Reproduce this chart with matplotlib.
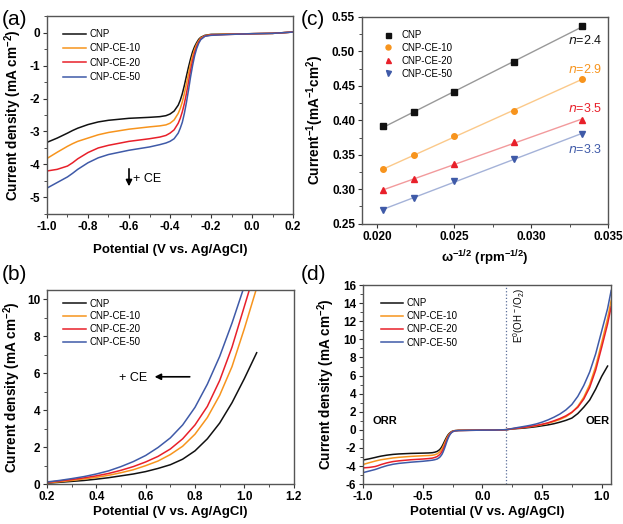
import numpy as np
import matplotlib
matplotlib.use('Agg')
import matplotlib.pyplot as plt
from matplotlib.ticker import MultipleLocator, FormatStrFormatter

plt.rcParams['font.family'] = ['Liberation Sans', 'DejaVu Sans']
plt.rcParams['mathtext.default'] = 'regular'
plt.rcParams['axes.unicode_minus'] = False

names = ['CNP', 'CNP-CE-10', 'CNP-CE-20', 'CNP-CE-50']
colors = ['#111111', '#f7941d', '#e8202a', '#3f5aa8']
fitcolors = ['#999999', '#fbc98a', '#f29a9c', '#a4b2d8']
markers = ['s', 'o', '^', 'v']

# (a) ORR polarisation curves
pot_orr = [-1.0, -0.95, -0.9, -0.875, -0.85, -0.8, -0.75, -0.7, -0.6, -0.5, -0.45, -0.42, -0.4, -0.38,
           -0.36, -0.35, -0.34, -0.33, -0.32, -0.31, -0.30, -0.29, -0.28, -0.27, -0.26, -0.25,
           -0.23, -0.2, -0.1, 0.0, 0.1, 0.2]
orr_cnp = [-3.33, -3.2, -3.05, -2.97, -2.9, -2.79, -2.71, -2.66, -2.6, -2.57, -2.55, -2.52, -2.47, -2.38,
           -2.2, -2.05, -1.85, -1.6, -1.32, -1.05, -0.8, -0.58, -0.42, -0.3, -0.2, -0.14,
           -0.08, -0.05, -0.04, -0.03, -0.02, 0.02]
orr_ce10 = [-3.82, -3.63, -3.45, -3.37, -3.3, -3.2, -3.1, -3.03, -2.93, -2.86, -2.83, -2.8, -2.75, -2.65,
            -2.45, -2.3, -2.1, -1.85, -1.55, -1.25, -0.95, -0.7, -0.5, -0.35, -0.24, -0.16,
            -0.09, -0.06, -0.04, -0.03, -0.02, 0.02]
orr_ce20 = [-4.2, -4.15, -4.05, -3.95, -3.83, -3.64, -3.5, -3.42, -3.3, -3.22, -3.17, -3.12, -3.05, -2.95,
            -2.75, -2.6, -2.4, -2.15, -1.85, -1.5, -1.15, -0.85, -0.6, -0.42, -0.28, -0.19,
            -0.1, -0.07, -0.05, -0.03, -0.02, 0.02]
orr_ce50 = [-4.72, -4.55, -4.38, -4.27, -4.15, -3.95, -3.8, -3.7, -3.57, -3.47, -3.4, -3.35, -3.3, -3.22,
            -3.05, -2.9, -2.72, -2.45, -2.12, -1.75, -1.35, -1.0, -0.7, -0.48, -0.32, -0.21,
            -0.11, -0.08, -0.05, -0.03, -0.02, 0.02]

# (b) OER polarisation curves
pot_oer = [0.2, 0.25, 0.3, 0.35, 0.4, 0.45, 0.5, 0.55, 0.6, 0.65, 0.7, 0.75, 0.8, 0.85,
           0.9, 0.95, 1.0, 1.05]
oer_cnp = [0.05, 0.1, 0.15, 0.2, 0.27, 0.35, 0.45, 0.55, 0.68, 0.85, 1.05, 1.35, 1.8, 2.45,
           3.3, 4.4, 5.7, 7.1]
oer_ce10 = [0.07, 0.13, 0.2, 0.28, 0.37, 0.48, 0.62, 0.78, 1.0, 1.25, 1.6, 2.05, 2.7, 3.6,
            4.8, 6.35, 8.4, 10.6]
oer_ce20 = [0.1, 0.17, 0.25, 0.34, 0.45, 0.58, 0.75, 0.95, 1.2, 1.5, 1.9, 2.45, 3.2, 4.2,
            5.6, 7.4, 9.6, 11.8]
oer_ce50 = [0.12, 0.2, 0.3, 0.41, 0.55, 0.72, 0.95, 1.22, 1.55, 1.98, 2.5, 3.2, 4.15, 5.4,
            6.9, 8.7, 10.7, 12.8]

# (c) Koutecky-Levich plot
omega = [0.0204, 0.0224, 0.025, 0.0289, 0.0333]
kl_cnp = [0.391, 0.412, 0.441, 0.485, 0.536]
kl_ce10 = [0.329, 0.350, 0.377, 0.413, 0.460]
kl_ce20 = [0.299, 0.315, 0.336, 0.368, 0.401]
kl_ce50 = [0.270, 0.288, 0.312, 0.344, 0.380]
n_labels = ['2.4', '2.9', '3.5', '3.3']
n_ypos = [0.515, 0.473, 0.417, 0.357]

# (d) full range, OER branch
pot_d = [0.2, 0.25, 0.3, 0.35, 0.4, 0.45, 0.5, 0.55, 0.6, 0.65, 0.7, 0.75, 0.8, 0.85,
         0.9, 0.95, 1.0, 1.05, 1.08]
d_cnp = [0.02, 0.1, 0.15, 0.2, 0.27, 0.35, 0.45, 0.55, 0.68, 0.85, 1.05, 1.3, 1.8, 2.5,
         3.3, 4.5, 5.9, 7.05, np.nan]
d_ce10 = [0.02, 0.12, 0.2, 0.27, 0.35, 0.45, 0.58, 0.73, 0.92, 1.15, 1.45, 1.9, 2.6, 3.6,
          5.0, 7.0, 9.6, 12.3, 14.3]
d_ce20 = [0.02, 0.12, 0.2, 0.28, 0.38, 0.48, 0.62, 0.78, 1.0, 1.25, 1.55, 1.95, 2.5, 3.4,
          4.7, 6.6, 9.1, 11.7, 13.6]
d_ce50 = [0.02, 0.15, 0.27, 0.38, 0.5, 0.65, 0.85, 1.1, 1.4, 1.75, 2.2, 2.8, 3.7, 4.9,
          6.4, 8.4, 10.9, 13.4, 15.4]

orr = [orr_cnp, orr_ce10, orr_ce20, orr_ce50]
oer = [oer_cnp, oer_ce10, oer_ce20, oer_ce50]
kl = [kl_cnp, kl_ce10, kl_ce20, kl_ce50]
dd = [d_cnp, d_ce10, d_ce20, d_ce50]

fig = plt.figure(figsize=(6.23, 5.24), dpi=100)
axa = fig.add_axes([0.0754, 0.592, 0.395, 0.377])
axc = fig.add_axes([0.581, 0.573, 0.395, 0.395])
axb = fig.add_axes([0.0754, 0.076, 0.396, 0.371])
axd = fig.add_axes([0.583, 0.076, 0.398, 0.380])


def style(ax, xmaj, ymaj, xfmt=None, yfmt=None):
    for s in ax.spines.values():
        s.set_color('#555555')
        s.set_linewidth(1.0)
    ax.xaxis.set_major_locator(MultipleLocator(xmaj))
    ax.xaxis.set_minor_locator(MultipleLocator(xmaj / 2))
    ax.yaxis.set_major_locator(MultipleLocator(ymaj))
    ax.yaxis.set_minor_locator(MultipleLocator(ymaj / 2))
    if xfmt:
        ax.xaxis.set_major_formatter(FormatStrFormatter(xfmt))
    if yfmt:
        ax.yaxis.set_major_formatter(FormatStrFormatter(yfmt))
    ax.tick_params(which='both', direction='out', top=False, right=False, colors='#333333',
                   labelcolor='black')
    ax.tick_params(which='major', length=3, labelsize=8.5, pad=2)
    ax.tick_params(which='minor', length=2)
    for lab in ax.get_xticklabels() + ax.get_yticklabels():
        lab.set_fontweight('bold')


xlab_kw = dict(fontsize=9.5, fontweight='bold')
ylab_kw = dict(fontsize=9.8, fontweight='bold')
leg_kw = dict(loc='upper left', frameon=False, fontsize=7, handlelength=2.3,
              handletextpad=0.4, borderaxespad=0)

# (a)
for y, c, n in zip(orr, colors, names):
    axa.plot(pot_orr, y, color=c, lw=1.1, label=n)
axa.set_xlim(-1.0, 0.2)
axa.set_ylim(-5.5, 0.5)
style(axa, 0.2, 1, xfmt='%.1f', yfmt='%d')
axa.set_xlabel('Potential (V vs. Ag/AgCl)', labelpad=8, **xlab_kw)
axa.set_ylabel('Current density (mA cm$^{-2}$)', labelpad=4, **ylab_kw)
axa.legend(bbox_to_anchor=(0.05, 0.955), labelspacing=0.45, **leg_kw)
axa.annotate('', xy=(-0.6, -4.75), xytext=(-0.6, -4.05),
             arrowprops=dict(arrowstyle='-|>', color='black', lw=1.2, mutation_scale=9))
axa.text(-0.58, -4.45, '+ CE', fontsize=9, va='center')

# (b)
for y, c, n in zip(oer, colors, names):
    axb.plot(pot_oer, y, color=c, lw=1.1, label=n)
axb.set_xlim(0.2, 1.2)
axb.set_ylim(0, 10.5)
style(axb, 0.2, 2, xfmt='%.1f', yfmt='%d')
axb.set_xlabel('Potential (V vs. Ag/AgCl)', labelpad=2, **xlab_kw)
axb.set_ylabel('Current density (mA cm$^{-2}$)', labelpad=3, **ylab_kw)
axb.legend(bbox_to_anchor=(0.05, 0.975), labelspacing=0.3, **leg_kw)
axb.annotate('', xy=(0.625, 5.8), xytext=(0.79, 5.8),
             arrowprops=dict(arrowstyle='-|>', color='black', lw=1.2, mutation_scale=9))
axb.text(0.55, 5.75, '+ CE', fontsize=9, va='center', ha='center')

# (c)
for y, c, fc, m, n, nl, ny in zip(kl, colors, fitcolors, markers, names, n_labels, n_ypos):
    k, b = np.polyfit(omega, y, 1)
    xs = np.array([omega[0], omega[-1]])
    axc.plot(xs, k * xs + b, color=fc, lw=1.0)
    axc.plot(omega, y, ls='none', marker=m, color=c, ms=4, label=n)
    axc.text(0.0346, ny, '$\\it{n}$=' + nl, color=c, fontsize=9, ha='right', va='center')
axc.set_xlim(0.019, 0.035)
axc.set_ylim(0.25, 0.55)
style(axc, 0.005, 0.05, xfmt='%.3f', yfmt='%.2f')
axc.set_xlabel('ω$^{-1/2}$ (rpm$^{-1/2}$)', labelpad=4, **xlab_kw)
axc.set_ylabel('Current$^{-1}$(mA$^{-1}$cm$^{2}$)', labelpad=4, **ylab_kw)
axc.legend(bbox_to_anchor=(0.06, 0.955), labelspacing=0.3, markerscale=0.9,
           **dict(leg_kw, handlelength=1.5, handletextpad=0.6))

# (d)
for yo, yd, c, n in zip(orr, dd, colors, names):
    axd.plot(pot_orr + pot_d[1:], yo + yd[1:], color=c, lw=1.1, label=n)
axd.axvline(0.2, color='#5a6e9a', ls=':', lw=0.9)
axd.set_xlim(-1.0, 1.08)
axd.set_ylim(-6, 16)
style(axd, 0.5, 2, xfmt='%.1f', yfmt='%d')
axd.set_xlabel('Potential (V vs. Ag/AgCl)', labelpad=2, **xlab_kw)
axd.set_ylabel('Current density (mA cm$^{-2}$)', labelpad=4, **ylab_kw)
axd.legend(bbox_to_anchor=(0.055, 0.955), labelspacing=0.33, **leg_kw)
axd.text(-0.82, 0.4, 'ORR', fontsize=8, fontweight='bold', ha='center', va='bottom')
axd.text(0.97, 0.4, 'OER', fontsize=8, fontweight='bold', ha='center', va='bottom')
axd.text(0.24, 15.6, 'E$^0$(OH$^-$/O$_2$)', fontsize=7, rotation=90, ha='left', va='top')

fig.text(0.003, 0.98, '(a)', fontsize=15, va='top')
fig.text(0.482, 0.98, '(c)', fontsize=15, va='top')
fig.text(0.003, 0.495, '(b)', fontsize=15, va='top')
fig.text(0.482, 0.495, '(d)', fontsize=15, va='top')

fig.savefig('out.png', dpi=100)
